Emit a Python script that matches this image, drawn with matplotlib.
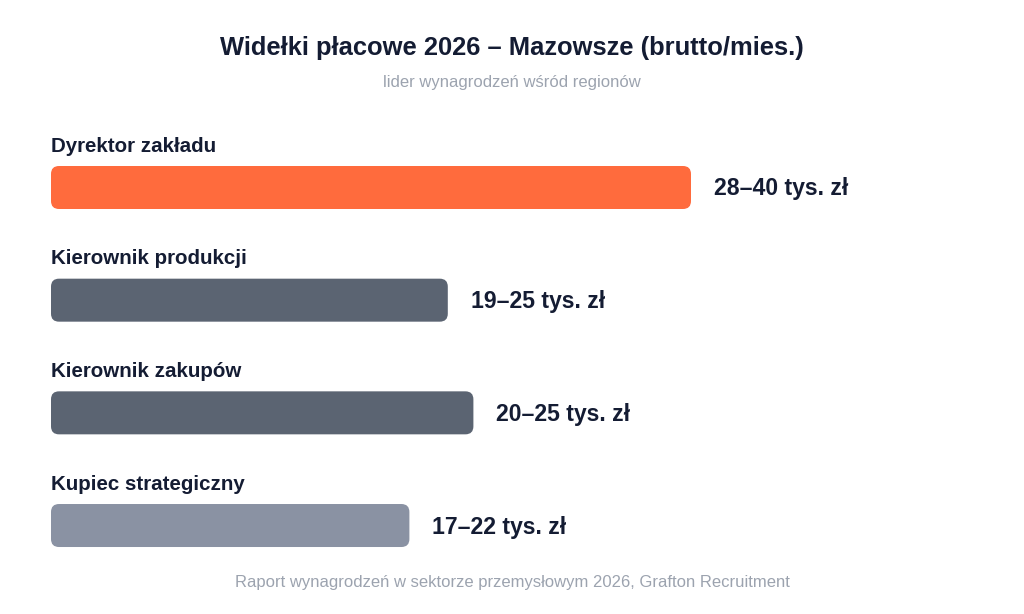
import matplotlib.pyplot as plt
from matplotlib.patches import FancyBboxPatch

plt.rcParams['font.family'] = ['Liberation Sans', 'DejaVu Sans']

# dane
roles = ['Dyrektor zakładu', 'Kierownik produkcji', 'Kierownik zakupów', 'Kupiec strategiczny']
ranges = ['28–40 tys. zł', '19–25 tys. zł', '20–25 tys. zł', '17–22 tys. zł']
bar_values = [40, 24.8, 26.4, 22.4]   # długość paska (tys. zł)
colors = ['#FF6B3D', '#5B6472', '#5B6472', '#8A92A3']

title = 'Widełki płacowe 2026 – Mazowsze (brutto/mies.)'
subtitle = 'lider wynagrodzeń wśród regionów'
source = 'Raport wynagrodzeń w sektorze przemysłowym 2026, Grafton Recruitment'

W, H = 1024, 614
fig = plt.figure(figsize=(W / 100, H / 100), dpi=100)
fig.patch.set_facecolor('white')
ax = fig.add_axes([0, 0, 1, 1])
ax.axis('off')

# skale: 16 px na 1 tys. zł, 112.67 px na wiersz
px_x = 16.0
px_y = 112.67
x0 = 51
y0 = 187.5
ax.set_xlim(-x0 / px_x, (W - x0) / px_x)
ax.set_ylim((H - y0) / px_y, -y0 / px_y)

bar_h = 43 / px_y
radius = 8 / px_x
dark = '#141c33'

for i, (role, rng, val, col) in enumerate(zip(roles, ranges, bar_values, colors)):
    box = FancyBboxPatch((0, i - bar_h / 2), val, bar_h,
                         boxstyle='round,pad=0,rounding_size=%f' % radius,
                         mutation_aspect=px_x / px_y,
                         facecolor=col, edgecolor='none')
    ax.add_patch(box)
    ax.text(0, i - 41.5 / px_y, role, ha='left', va='center',
            fontsize=14.8, fontweight='bold', color=dark)
    ax.text(val + 23 / px_x, i + 1.5 / px_y, rng, ha='left', va='center',
            fontsize=16.6, fontweight='bold', color=dark)

fig.text(0.5, 1 - 48.5 / H, title, ha='center', va='center',
         fontsize=18.4, fontweight='bold', color=dark)
fig.text(0.5, 1 - 82 / H, subtitle, ha='center', va='center',
         fontsize=12, color='#9ca3af')
fig.text(0.5, 1 - 583 / H, source, ha='center', va='center',
         fontsize=12, color='#9ca3af')

fig.savefig('out.png', dpi=100, facecolor='white')
